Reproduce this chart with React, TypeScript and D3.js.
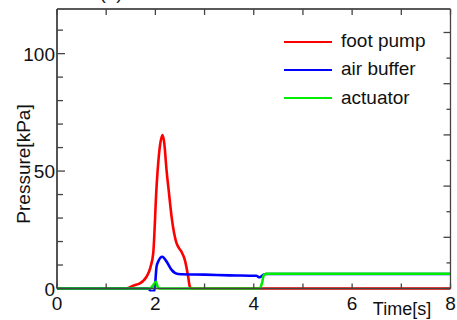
import React from "react";
import * as d3 from "d3";

const W = 457;
const H = 320;

const seriesNames = ["foot pump", "air buffer", "actuator"];
const seriesColors = ["#ff0000", "#0000ff", "#00ee00"];

const footPumpT = [0, 1.4, 1.48, 1.55, 1.685, 1.75, 1.82, 1.9, 1.957, 2.024, 2.09, 2.146, 2.18, 2.227, 2.28, 2.33, 2.43, 2.48, 2.53, 2.6, 2.667, 2.70, 2.74, 4.0, 8];
const footPumpV = [0, 0, 0.5, 1.2, 2.2, 3.2, 5, 9, 15.2, 43.3, 60.3, 65.3, 62, 50.4, 40, 30.5, 19.3, 17.2, 15.7, 12.1, 5, 0.8, 0, 0, 0];

const airBufferT = [0, 1.85, 1.92, 1.98, 2.024, 2.06, 2.14, 2.23, 2.33, 2.46, 3.0, 3.5, 4.05, 4.12, 4.18, 4.25, 8];
const airBufferV = [0, 0, -1.2, -1.0, 9.3, 11.6, 13.5, 11.4, 7.9, 6.2, 5.9, 5.6, 5.4, 4.8, 5.6, 6.2, 6.2];

const actuatorT = [0, 1.88, 1.95, 2.01, 2.05, 2.08, 4.12, 4.17, 4.2, 4.26, 8];
const actuatorV = [0, 0, 1.2, 2.9, 0.5, 0, 0, 2.5, 5.5, 6.3, 6.3];

const xTicks = [0, 2, 4, 6, 8];
const yTicks = [0, 50, 100];

export default function App() {
  const left = 57, right = 450.5, top = 9, bottom = 288.5;
  const x = d3.scaleLinear().domain([0, 8]).range([left, right]);
  const y = d3.scaleLinear().domain([0, 119]).range([bottom, top]);
  const yR = d3.scaleLinear().domain([0, (bottom - top) / 51.2]).range([bottom, top]);

  const line = d3
    .line<[number, number]>()
    .x((d) => x(d[0]))
    .y((d) => y(d[1]))
    .curve(d3.curveMonotoneX);

  const series = [
    footPumpT.map((t, i) => [t, footPumpV[i]] as [number, number]),
    airBufferT.map((t, i) => [t, airBufferV[i]] as [number, number]),
    actuatorT.map((t, i) => [t, actuatorV[i]] as [number, number]),
  ];

  const leftMinor = d3.range(0, 120, 10);
  const xMinor = d3.range(0, 9, 1);
  const rightTicks = d3.range(0, 5.5, 0.5);
  const font = "Liberation Sans, Arial, Helvetica, sans-serif";
  const axisColor = "#444";

  return (
    <svg
      width={W}
      height={H}
      style={{ position: "fixed", left: 0, top: 0, background: "#fff" }}
      fontFamily={font}
    >
      <defs>
        <clipPath id="plotclip">
          <rect x={left} y={top} width={right - left} height={bottom - top + 3} />
        </clipPath>
      </defs>
      <text x={111} y={-1.5} fontSize={19} textAnchor="middle" fill="#222">(b)</text>

      {/* data */}
      <g clipPath="url(#plotclip)">
        {series.map((s, i) => (
          <path
            key={i}
            d={line(s) || ""}
            fill="none"
            stroke={seriesColors[i]}
            strokeWidth={2.6}
            strokeLinejoin="round"
          />
        ))}
      </g>

      {/* frame */}
      <line x1={left} x2={right} y1={top} y2={top} stroke="#222" strokeWidth={1.5} />
      <line x1={right} x2={right} y1={top} y2={bottom} stroke={axisColor} strokeWidth={1.3} />
      <line x1={left} x2={right} y1={bottom} y2={bottom} stroke={axisColor} strokeWidth={1.3} />
      <line x1={left} x2={left} y1={top} y2={bottom} stroke="#555" strokeWidth={2} />

      {/* left ticks */}
      {leftMinor.map((v) => (
        <line
          key={"l" + v}
          x1={left}
          x2={left + (v % 50 === 0 ? 8 : 6)}
          y1={y(v)}
          y2={y(v)}
          stroke={axisColor}
          strokeWidth={1.3}
        />
      ))}
      {/* right ticks */}
      {rightTicks.map((v) => (
        <line
          key={"r" + v}
          x1={right}
          x2={right - (v % 1 === 0 ? 7 : 4)}
          y1={yR(v)}
          y2={yR(v)}
          stroke={axisColor}
          strokeWidth={1.3}
        />
      ))}
      {/* x ticks top & bottom */}
      {xMinor.map((v) => (
        <g key={"x" + v}>
          <line x1={x(v)} x2={x(v)} y1={bottom} y2={bottom - 5} stroke={axisColor} strokeWidth={1.3} />
          <line x1={x(v)} x2={x(v)} y1={top} y2={top + 6} stroke={axisColor} strokeWidth={1.3} />
        </g>
      ))}

      {/* tick labels */}
      {yTicks.map((v) => (
        <text key={"yt" + v} x={55} y={y(v) + 7} fontSize={19} textAnchor="end" fill="#111">
          {v}
        </text>
      ))}
      {xTicks.map((v) => (
        <text key={"xt" + v} x={x(v)} y={310} fontSize={19} textAnchor="middle" fill="#111">
          {v}
        </text>
      ))}

      <text x={402} y={315} fontSize={18} textAnchor="middle" fill="#111">Time[s]</text>
      <text
        transform={`translate(30,164) rotate(-90)`}
        fontSize={19}
        textAnchor="middle"
        fill="#111"
      >
        Pressure[kPa]
      </text>

      {/* legend */}
      {seriesNames.map((n, i) => (
        <g key={n}>
          <line x1={284} x2={332} y1={42 + i * 28} y2={42 + i * 28} stroke={seriesColors[i]} strokeWidth={2} />
          <text x={341} y={47 + i * 28.3} fontSize={19} fill="#111">{n}</text>
        </g>
      ))}
    </svg>
  );
}
